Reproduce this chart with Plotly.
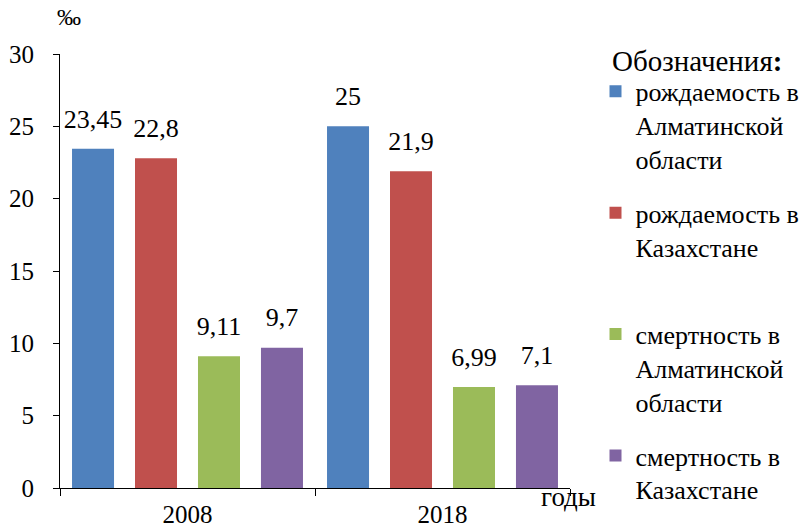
import plotly.graph_objects as go

# Years on the category axis
years = ["2008", "2018"]

# Rates per 1000 people (‰)
birth_almaty = [23.45, 25]
birth_kz = [22.8, 21.9]
death_almaty = [9.11, 6.99]
death_kz = [9.7, 7.1]

series_names = [
    "рождаемость в<br>Алматинской<br>области",
    "рождаемость в<br>Казахстане<br> ",
    "смертность в<br>Алматинской<br>области",
    "смертность в<br>Казахстане",
]
series_values = [birth_almaty, birth_kz, death_almaty, death_kz]
colors = ["#4F81BD", "#C0504D", "#9BBB59", "#8064A2"]

FONT = "Times New Roman"


def fmt(v):
    s = f"{v:g}"
    return s.replace(".", ",")


fig = go.Figure()
for i, (name, vals, col) in enumerate(zip(series_names, series_values, colors)):
    fig.add_trace(go.Bar(
        x=years, y=vals, name=name, marker_color=col,
        marker_line_width=0, offsetgroup=str(i), alignmentgroup="a",
        legendgroup=str(i),
    ))
for i, (vals, col) in enumerate(zip(series_values, colors)):
    fig.add_trace(go.Scatter(
        x=years, y=vals, mode="markers+text",
        text=[fmt(v) for v in vals], textposition="top center",
        textfont=dict(family=FONT, size=26, color="black"),
        marker=dict(size=22, opacity=0), showlegend=False,
        offsetgroup=str(i), alignmentgroup="a", hoverinfo="skip",
    ))

fig.update_layout(
    width=806, height=529,
    margin=dict(l=60, r=236, t=54, b=41, autoexpand=False),
    paper_bgcolor="white", plot_bgcolor="white",
    barmode="group", bargap=0.012, bargroupgap=0.333,
    scattermode="group", scattergap=0.012,
    font=dict(family=FONT, size=25, color="black"),
    legend=dict(
        x=1.05, xanchor="left", y=0.968, yanchor="top", maxheight=500,
        valign="top", traceorder="grouped", tracegroupgap=17, itemwidth=30,
        font=dict(family=FONT, size=26, color="black"),
    ),
    showlegend=True,
)
fig.update_xaxes(
    type="category", showline=True, linecolor="black", linewidth=1,
    ticks="outside", tickson="boundaries", ticklen=7, tickcolor="black",
    showgrid=False, tickfont=dict(family=FONT, size=25),
    ticklabelstandoff=4, automargin=False,
)
fig.update_yaxes(
    range=[0, 30], dtick=5, showline=True, linecolor="black", linewidth=1,
    ticks="outside", ticklen=6, tickcolor="black", showgrid=False,
    zeroline=False, tickfont=dict(family=FONT, size=25),
    ticklabelstandoff=14, automargin=False,
)

# Legend heading
fig.add_annotation(text="Обозначения<b>:</b>", xref="paper", yref="paper",
                   x=1.0, y=1, xanchor="left", yanchor="middle",
                   xshift=40, yshift=-7, showarrow=False,
                   font=dict(family=FONT, size=29))
# Axis units
fig.add_annotation(text="‰", xref="paper", yref="paper", x=0, y=1,
                   xanchor="center", yanchor="bottom", yshift=22, xshift=9,
                   showarrow=False, font=dict(family=FONT, size=24))
fig.add_annotation(text="годы", xref="paper", yref="paper", x=1, y=0,
                   xanchor="right", yanchor="top", xshift=28, yshift=8,
                   showarrow=False, font=dict(family=FONT, size=27))

fig.write_html("out.html")
